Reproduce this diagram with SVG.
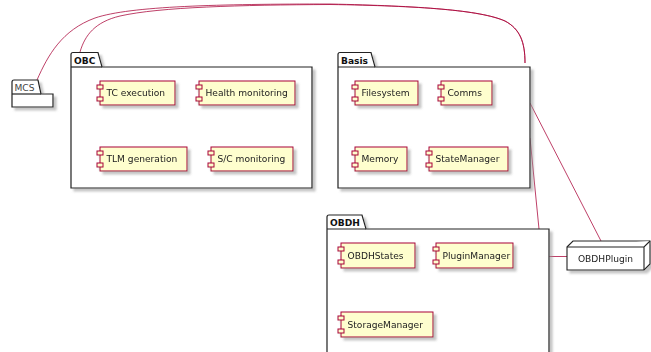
<svg xmlns="http://www.w3.org/2000/svg" width="651" height="352" viewBox="0 0 651 352">
  <defs>
    <filter id="shadow" x="-10%" y="-10%" width="130%" height="140%">
      <feGaussianBlur in="SourceAlpha" stdDeviation="1.3" result="blur"/>
      <feOffset in="blur" dx="2.5" dy="2.5" result="off"/>
      <feColorMatrix in="off" type="matrix" values="0 0 0 0 0.3  0 0 0 0 0.3  0 0 0 0 0.3  0 0 0 0.55 0" result="sh"/>
      <feMerge><feMergeNode in="sh"/><feMergeNode in="SourceGraphic"/></feMerge>
    </filter>
  </defs>
  <style>
    .pkg { fill: #ffffff; stroke: #222222; stroke-width: 1.2; filter: url(#shadow); }
    .pkgline { fill: none; stroke: #222222; stroke-width: 1.2; }
    .pkgname { font-family: "DejaVu Sans", sans-serif; font-size: 9.1px; font-weight: bold; fill: #111111; }
    .pkgplain { font-family: "DejaVu Sans", sans-serif; font-size: 9.1px; fill: #444444; }
    .comp { fill: #FEFECE; stroke: #A80036; stroke-width: 1; }
    .compg { filter: url(#shadow); }
    .label { font-family: "DejaVu Sans", sans-serif; font-size: 9.1px; fill: #222222; }
    .link { fill: none; stroke: #A80036; stroke-opacity: 0.75; stroke-width: 1; }
    .node { fill: #ffffff; stroke: #222222; stroke-width: 1.1; }
  </style>

  <!-- links between packages and the plugin node -->
  <g id="connectors">
    <path class="link" d="M37,80 C48,55 62,30 95,18 C130,6 220,4 330,4 C420,6 480,10 505,21 C520,29 525,42 525,63"/>
    <path class="link" d="M80,52 C85,35 95,22 120,16 C160,7 240,5 330,4.5 C420,6 480,10 505,21 C520,29 525,42 525,63"/>
    <path class="link" d="M530,138 L539,229"/>
    <path class="link" d="M530,103 L601,241"/>
    <path class="link" d="M549,256.5 L567,256.5"/>
  </g>

  <!-- MCS (empty package) -->
  <g id="MCS">
    <path class="pkg" d="M12,94 L12,82 Q12,80 14,80 L38,80 L41,94 L53,94 L53,107 L12,107 Z"/>
    <path class="pkgline" d="M12,94 L41,94"/>
    <text class="pkgplain" x="14.5" y="91">MCS</text>
  </g>

  <!-- OBC package -->
  <g id="OBC">
    <path class="pkg" d="M71,67 L71,54.5 Q71,52.5 73,52.5 L98,52.5 L102,67 L312,67 L312,188 L71,188 Z"/>
    <path class="pkgline" d="M71,67 L102,67"/>
    <text class="pkgname" x="74" y="63.5">OBC</text>
  </g>
  <g id="TCexecution" class="compg">
    <rect class="comp" x="100" y="81" width="75" height="24"/>
    <rect class="comp" x="97" y="85" width="6" height="4"/>
    <rect class="comp" x="97" y="97" width="6" height="4"/>
    <text class="label" x="106.5" y="96">TC execution</text>
  </g>
  <g id="HealthMonitoring" class="compg">
    <rect class="comp" x="199" y="81" width="96" height="24"/>
    <rect class="comp" x="196" y="85" width="6" height="4"/>
    <rect class="comp" x="196" y="97" width="6" height="4"/>
    <text class="label" x="205.5" y="96">Health monitoring</text>
  </g>
  <g id="TLMgeneration" class="compg">
    <rect class="comp" x="100" y="147" width="87" height="24"/>
    <rect class="comp" x="97" y="151" width="6" height="4"/>
    <rect class="comp" x="97" y="163" width="6" height="4"/>
    <text class="label" x="106.5" y="162">TLM generation</text>
  </g>
  <g id="SCmonitoring" class="compg">
    <rect class="comp" x="211" y="147" width="82" height="24"/>
    <rect class="comp" x="208" y="151" width="6" height="4"/>
    <rect class="comp" x="208" y="163" width="6" height="4"/>
    <text class="label" x="217.5" y="162">S/C monitoring</text>
  </g>

  <!-- Basis package -->
  <g id="Basis">
    <path class="pkg" d="M338,67 L338,54.5 Q338,52.5 340,52.5 L371,52.5 L375,67 L530,67 L530,188 L338,188 Z"/>
    <path class="pkgline" d="M338,67 L375,67"/>
    <text class="pkgname" x="341" y="63.5">Basis</text>
  </g>
  <g id="Filesystem" class="compg">
    <rect class="comp" x="355" y="81" width="63" height="24"/>
    <rect class="comp" x="352" y="85" width="6" height="4"/>
    <rect class="comp" x="352" y="97" width="6" height="4"/>
    <text class="label" x="361.5" y="96">Filesystem</text>
  </g>
  <g id="Comms" class="compg">
    <rect class="comp" x="441" y="81" width="51" height="24"/>
    <rect class="comp" x="438" y="85" width="6" height="4"/>
    <rect class="comp" x="438" y="97" width="6" height="4"/>
    <text class="label" x="447.5" y="96">Comms</text>
  </g>
  <g id="Memory" class="compg">
    <rect class="comp" x="355" y="147" width="52" height="24"/>
    <rect class="comp" x="352" y="151" width="6" height="4"/>
    <rect class="comp" x="352" y="163" width="6" height="4"/>
    <text class="label" x="361.5" y="162">Memory</text>
  </g>
  <g id="StateManager" class="compg">
    <rect class="comp" x="429" y="147" width="79" height="24"/>
    <rect class="comp" x="426" y="151" width="6" height="4"/>
    <rect class="comp" x="426" y="163" width="6" height="4"/>
    <text class="label" x="435.5" y="162">StateManager</text>
  </g>

  <!-- OBDH package -->
  <g id="OBDH">
    <path class="pkg" d="M327,229 L327,217 Q327,215 329,215 L362,215 L366,229 L549,229 L549,360 L327,360 Z"/>
    <path class="pkgline" d="M327,229 L366,229"/>
    <text class="pkgname" x="330" y="226">OBDH</text>
  </g>
  <g id="OBDHStates" class="compg">
    <rect class="comp" x="341" y="243" width="74" height="25"/>
    <rect class="comp" x="338" y="247" width="6" height="4"/>
    <rect class="comp" x="338" y="260" width="6" height="4"/>
    <text class="label" x="347.5" y="258.5">OBDHStates</text>
  </g>
  <g id="PluginManager" class="compg">
    <rect class="comp" x="436" y="243" width="77" height="25"/>
    <rect class="comp" x="433" y="247" width="6" height="4"/>
    <rect class="comp" x="433" y="260" width="6" height="4"/>
    <text class="label" x="442.5" y="258.5">PluginManager</text>
  </g>
  <g id="StorageManager" class="compg">
    <rect class="comp" x="341" y="312" width="92" height="25"/>
    <rect class="comp" x="338" y="316" width="6" height="4"/>
    <rect class="comp" x="338" y="329" width="6" height="4"/>
    <text class="label" x="347.5" y="327.5">StorageManager</text>
  </g>

  <!-- OBDHPlugin node -->
  <g id="OBDHPlugin" filter="url(#shadow)">
    <path class="node" d="M567,247 L573,241 L650,241 L650,264 L644,270 L567,270 Z"/>
    <path class="node" d="M567,247 L644,247 L650,241 M644,247 L644,270"/>
    <text class="label" x="605.5" y="262" text-anchor="middle">OBDHPlugin</text>
  </g>
</svg>
